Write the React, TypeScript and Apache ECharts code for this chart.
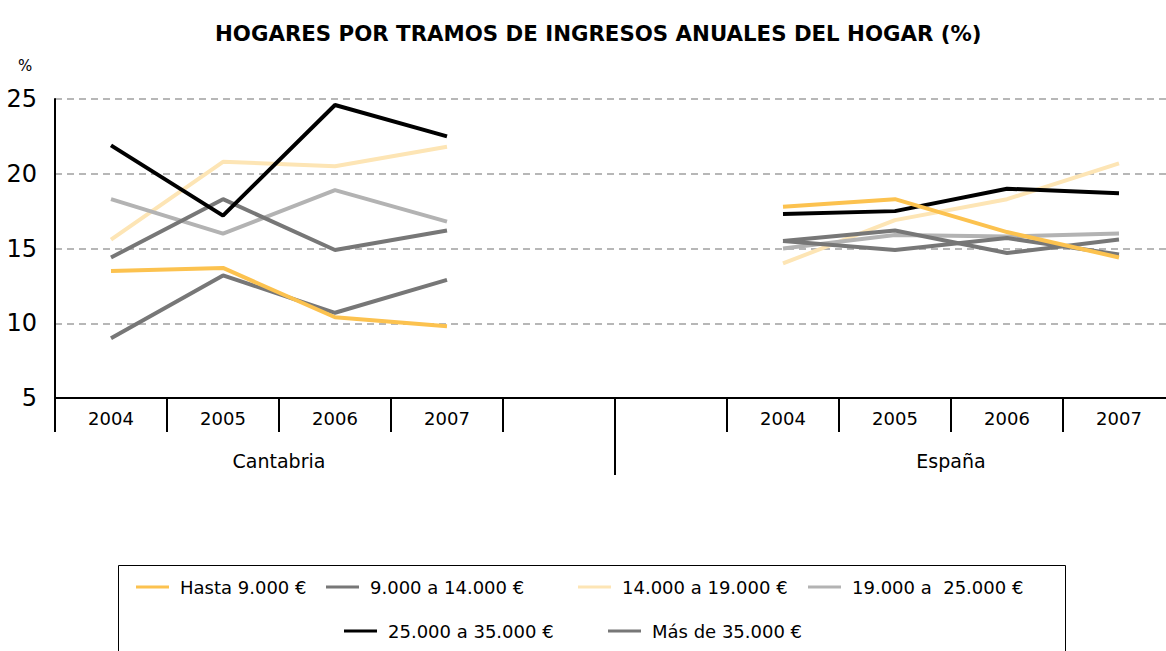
import React, { useEffect, useRef } from "react";
import * as echarts from "echarts";

const chartTitle = "HOGARES POR TRAMOS DE INGRESOS ANUALES DEL HOGAR (%)";
const unitLabel = "%";
const years = ["2004", "2005", "2006", "2007", "", "", "2004", "2005", "2006", "2007"];
const groups = ["Cantabria", "España"];
const groupCenters = [2, 8];
const groupSeparators = [5];
const seriesNames = [
  "Hasta 9.000 €",
  "9.000 a 14.000 €",
  "14.000 a 19.000 €",
  "19.000 a  25.000 €",
  "25.000 a 35.000 €",
  "Más de 35.000 €",
];
const hasta9 = [13.5, 13.7, 10.4, 9.8, null, null, 17.8, 18.3, 16.1, 14.4];
const de9a14 = [14.4, 18.3, 14.9, 16.2, null, null, 15.5, 16.2, 14.7, 15.6];
const de14a19 = [15.6, 20.8, 20.5, 21.8, null, null, 14.0, 16.9, 18.3, 20.7];
const de19a25 = [18.3, 16.0, 18.9, 16.8, null, null, 15.0, 15.9, 15.8, 16.0];
const de25a35 = [21.9, 17.2, 24.6, 22.5, null, null, 17.3, 17.5, 19.0, 18.7];
const mas35 = [9.0, 13.2, 10.7, 12.9, null, null, 15.5, 14.9, 15.7, 14.6];

const seriesData = [hasta9, de9a14, de14a19, de19a25, de25a35, mas35];
const colors = ["#FCC24F", "#777777", "#FDE5B5", "#B3B3B3", "#000000", "#777777"];
const zOrder = [6, 4, 2, 3, 5, 4];
const legendPos = [
  [136, 578],
  [326, 578],
  [578, 578],
  [808, 578],
  [344, 622],
  [608, 622],
];

const FONT = "DejaVu Sans";

export default function App() {
  const ref = useRef<HTMLDivElement>(null);
  useEffect(() => {
    if (!ref.current) return;
    const chart = echarts.init(ref.current, undefined, { renderer: "svg" });
    const option: any = {
      animation: false,
      backgroundColor: "#ffffff",
      textStyle: { fontFamily: FONT },
      title: [
        {
          text: chartTitle,
          left: 210,
          top: 18,
          textStyle: { fontFamily: FONT, fontSize: 21.3, fontWeight: "bold", color: "#000" },
        },
        {
          text: unitLabel,
          left: 13,
          top: 53,
          textStyle: { fontFamily: FONT, fontSize: 15, fontWeight: "normal", color: "#000" },
        },
      ],
      graphic: [
        {
          type: "rect",
          shape: { x: 118.5, y: 565.5, width: 947, height: 100 },
          style: { fill: "none", stroke: "#000", lineWidth: 1 },
          silent: true,
        },
      ],
      legend: seriesNames.map((n, i) => ({
        data: [n],
        left: legendPos[i][0],
        top: legendPos[i][1],
        padding: 0,
        icon: "rect",
        itemWidth: 33,
        itemHeight: 3,
        textStyle: { fontFamily: FONT, fontSize: 18, color: "#000", padding: [0, 0, 0, 6] },
      })),
      grid: {
        left: 55,
        width: 1120,
        top: 99,
        bottom: 253,
        containLabel: false,
        outerBoundsMode: "none",
      },
      xAxis: [
        {
          type: "category",
          data: years,
          boundaryGap: true,
          axisLine: { show: true, lineStyle: { color: "#000", width: 2 } },
          axisTick: { show: true, alignWithLabel: false, interval: 0, length: 34, lineStyle: { color: "#000", width: 2 } },
          axisLabel: { interval: 0, margin: 11, fontSize: 18, color: "#000", fontFamily: FONT },
          splitLine: { show: false },
        },
        {
          type: "value",
          min: 0,
          max: years.length,
          position: "bottom",
          axisLine: { show: false },
          splitLine: { show: false },
          axisTick: { show: true, customValues: groupSeparators, length: 77, lineStyle: { color: "#000", width: 2 } },
          axisLabel: {
            show: true,
            customValues: groupCenters,
            margin: 53,
            fontSize: 19,
            color: "#000",
            fontFamily: FONT,
            formatter: (v: number) => groups[groupCenters.indexOf(v)] ?? "",
          },
        },
      ],
      yAxis: {
        type: "value",
        min: 5,
        max: 25,
        interval: 5,
        axisLine: { show: true, lineStyle: { color: "#000", width: 2 } },
        axisTick: { show: false },
        axisLabel: { fontSize: 24, margin: 18, color: "#000", fontFamily: FONT },
        splitLine: { show: true, lineStyle: { color: "#A0A0A0", width: 1.5, type: [7, 5] } },
      },
      series: seriesNames.map((n, i) => ({
        name: n,
        type: "line",
        xAxisIndex: 0,
        data: seriesData[i],
        color: colors[i],
        z: zOrder[i],
        showSymbol: false,
        symbol: "none",
        connectNulls: false,
        lineStyle: { color: colors[i], width: 4 },
      })),
    };
    chart.setOption(option);
    return () => chart.dispose();
  }, []);
  return (
    <div
      ref={ref}
      style={{ position: "fixed", left: 0, top: 0, width: 1166, height: 651, background: "#fff" }}
    />
  );
}
